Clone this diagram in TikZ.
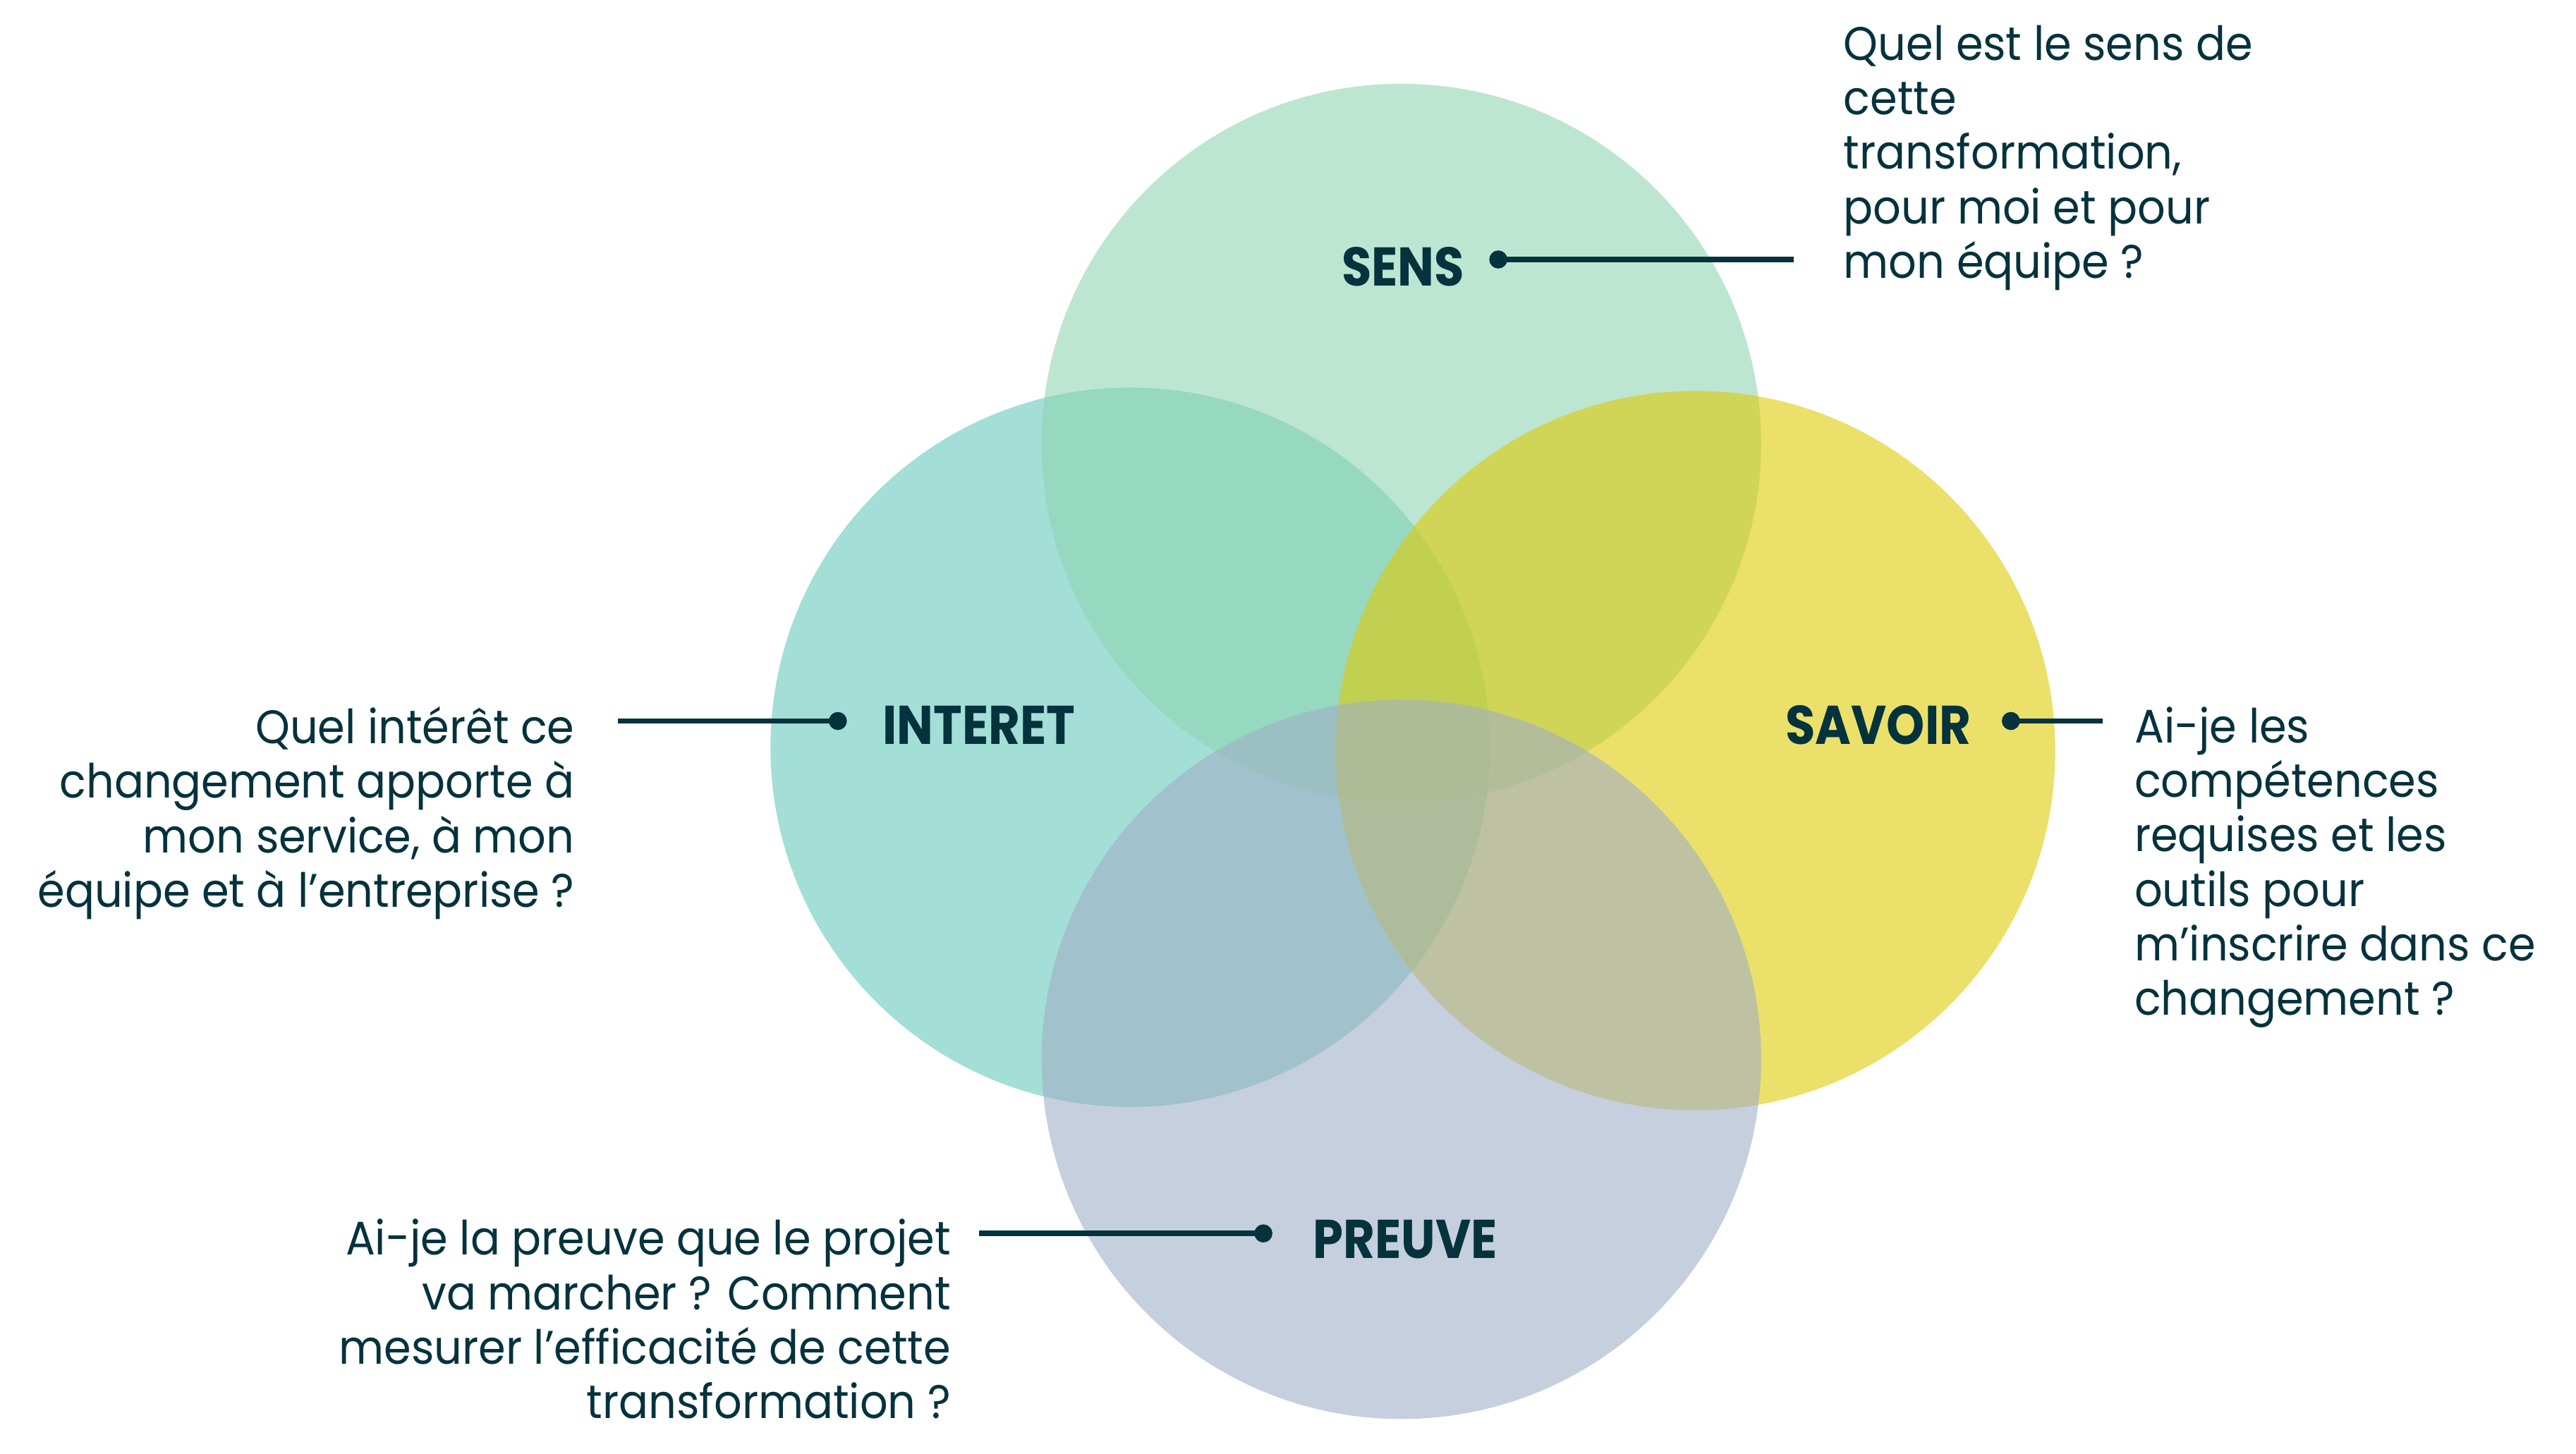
\documentclass[tikz,border=0pt]{standalone}
\usepackage{fontspec}
\setmainfont{Poppins}[FakeStretch=0.93]
\newfontfamily\pillarfont[FakeStretch=0.89]{Poppins}
\usetikzlibrary{positioning}
\definecolor{inkteal}{HTML}{04323D}
\definecolor{sensgreen}{HTML}{8FD5B2}
\definecolor{interetteal}{HTML}{66C8BC}
\definecolor{savoiryellow}{HTML}{DECB07}
\definecolor{preuveblue}{HTML}{A0AFC8}

\begin{document}
\begin{tikzpicture}[x=0.02329cm,y=-0.02329cm,
    disc/.style={fill opacity=0.6},
    pillar/.style={font=\pillarfont\bfseries\fontsize{22}{26}\selectfont, text=inkteal, inner sep=0pt},
    question/.style={font=\fontsize{19}{22}\selectfont, text=inkteal, inner sep=0pt},
    leader/.style={draw=inkteal, line width=2.2pt}]
    \useasboundingbox (0,0) rectangle (1568,885);
    % the four circles, drawn back to front
    \foreach \x/\y/\clr in {688/455/interetteal, 853/270/sensgreen, 1032/457/savoiryellow, 853/645/preuveblue}{
        \fill[\clr, disc] (\x,\y) circle (219);
    }
    % pillar names
    \node[pillar, anchor=base] (sens) at (854,174) {SENS};
    \node[pillar, anchor=base west] (interet) at (537,453) {INTERET};
    \node[pillar, anchor=base east] (savoir) at (1200,453) {SAVOIR};
    \node[pillar, anchor=base west] (preuve) at (799,766) {PREUVE};
    % questions
    \node[question, anchor=north west, align=left] (sensq) at (1122,15)
        {Quel est le sens de\\cette\\transformation,\\pour moi et pour\\mon équipe ?};
    \node[question, anchor=north east, align=right] (interetq) at (350,430)
        {Quel intérêt ce\\changement apporte à\\mon service, à mon\\équipe et à l’entreprise ?};
    \node[question, anchor=north west, align=left] (savoirq) at (1299,430)
        {Ai-je les\\compétences\\requises et les\\outils pour\\m’inscrire dans ce\\changement ?};
    \node[question, anchor=north east, align=right] (preuveq) at (579,742)
        {Ai-je la preuve que le projet\\va marcher ? Comment\\mesurer l’efficacité de cette\\transformation ?};
    % leader lines
    \coordinate (sensdot) at (912,158);
    \coordinate (sensend) at (1092,158);
    \coordinate (interetdot) at (510,439);
    \coordinate (interetend) at (376,439);
    \coordinate (savoirdot) at (1224,439);
    \coordinate (savoirend) at (1280,439);
    \coordinate (preuvedot) at (769,751);
    \coordinate (preuveend) at (596,751);
    \foreach \a/\b in {sensdot/sensend, interetdot/interetend, savoirdot/savoirend, preuvedot/preuveend}{
        \draw[leader] (\a) -- (\b);
        \fill[inkteal] (\a) circle (5.5);
    }
\end{tikzpicture}
\end{document}
